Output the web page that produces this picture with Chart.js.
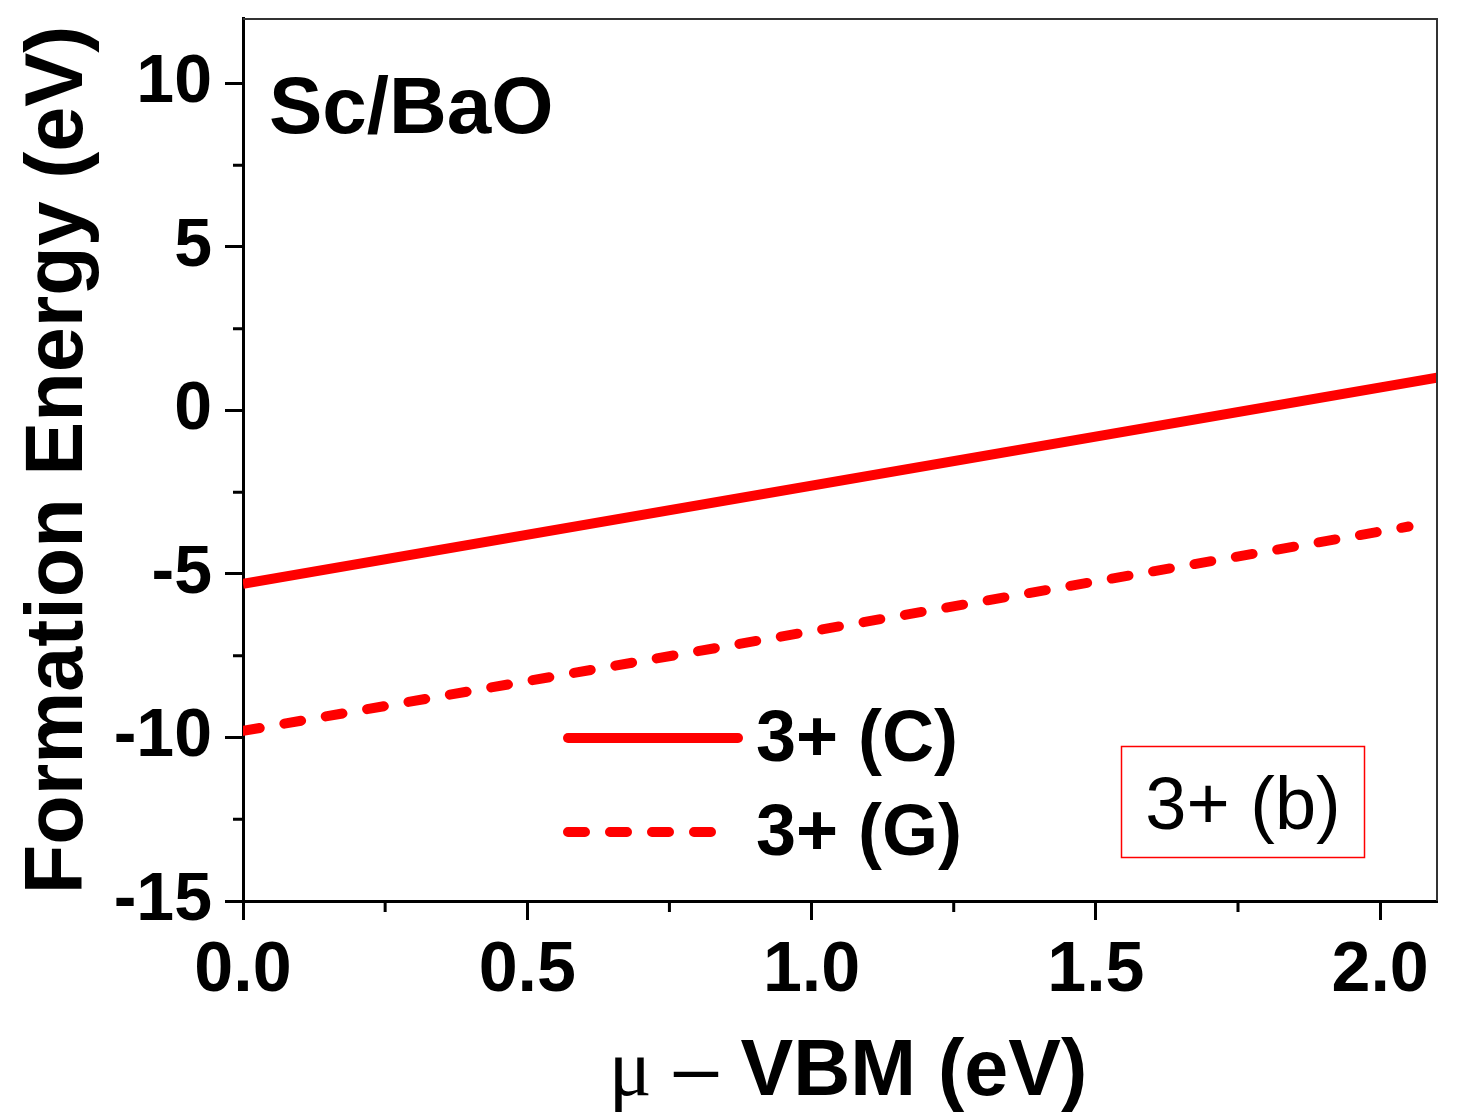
<!DOCTYPE html>
<html>
<head>
<meta charset="utf-8">
<script src="https://cdn.jsdelivr.net/npm/chart.js@4.4.1/dist/chart.umd.min.js"></script>
<style>
  body { margin: 0; background: #fff; }
  #wrap { width: 1459px; height: 1117px; position: relative; }
</style>
</head>
<body>
<div id="wrap"><canvas id="formationChart"></canvas></div>
<script>
// Series labels and end points (straight lines)
const seriesNames = ['3+ (C)', '3+ (G)'];
const xC = [0, 2.1];
const yC = [-5.3, 1.0];
const xG = [0, 2.05];
const yG = [-9.8, -3.55];

// Axis ticks
const xMajor = [0, 0.5, 1.0, 1.5, 2.0];
const xMinor = [0.25, 0.75, 1.25, 1.75];
const xTickLabels = ['0.0', '0.5', '1.0', '1.5', '2.0'];
const yMajor = [-15, -10, -5, 0, 5, 10];
const yMinor = [-12.5, -7.5, -2.5, 2.5, 7.5];
const yTickLabels = ['-15', '-10', '-5', '0', '5', '10'];

const SANS = '"Liberation Sans", Arial, sans-serif';
const SERIF = '"Liberation Serif", "Times New Roman", serif';

const toPoints = (xs, ys) => xs.map((x, i) => ({ x: x, y: ys[i] }));

// Extra drawing: minor ticks, frame, titles, legend and boxed label
const decorPlugin = {
    id: 'decor',
    afterDraw(chart) {
        const c = chart.ctx;
        const area = chart.chartArea;
        const xs = chart.scales.x, ys = chart.scales.y;
        c.save();

        // minor ticks (outward)
        c.strokeStyle = '#000';
        c.lineWidth = 3;
        c.beginPath();
        xMinor.forEach(v => {
            const px = xs.getPixelForValue(v);
            c.moveTo(px, area.bottom); c.lineTo(px, area.bottom + 11);
        });
        yMinor.forEach(v => {
            const py = ys.getPixelForValue(v);
            c.moveTo(area.left, py); c.lineTo(area.left - 10, py);
        });
        c.stroke();

        // thin top / right frame
        c.strokeStyle = '#333';
        c.lineWidth = 2;
        c.beginPath();
        c.moveTo(area.left, area.top + 1); c.lineTo(area.right, area.top + 1);
        c.lineTo(area.right, area.bottom);
        c.stroke();

        // panel label
        c.fillStyle = '#000';
        c.textAlign = 'left';
        c.textBaseline = 'alphabetic';
        c.font = 'bold 80px ' + SANS;
        c.fillText('Sc/BaO', area.left + 26, 133);

        // legend
        const ds = chart.data.datasets;
        const legRows = [738, 832];
        const legEnds = [area.left + 495, area.left + 472];
        ds.forEach((d, i) => {
            c.save();
            c.strokeStyle = d.borderColor;
            c.lineWidth = d.borderWidth;
            c.lineCap = 'round';
            c.setLineDash(d.borderDash || []);
            c.beginPath();
            c.moveTo(area.left + 325, legRows[i]);
            c.lineTo(legEnds[i], legRows[i]);
            c.stroke();
            c.restore();
            c.fillStyle = '#000';
            c.font = 'bold 72px ' + SANS;
            c.textBaseline = 'middle';
            c.fillText(d.label, area.left + 513, legRows[i] + 3);
        });

        // boxed annotation
        c.strokeStyle = '#ff0000';
        c.lineWidth = 1.5;
        c.strokeRect(1121.5, 746.5, 243, 111);
        c.fillStyle = '#000';
        c.font = '74px ' + SANS;
        c.textAlign = 'center';
        c.textBaseline = 'alphabetic';
        c.fillText('3+ (b)', 1243, 829);

        // x title: mu in serif, rest mixed
        c.textAlign = 'left';
        const parts = [
            { t: '\u03bc', f: '80px ' + SERIF },
            { t: ' \u2013 ', f: '80px ' + SANS },
            { t: 'VBM (eV)', f: 'bold 79px ' + SANS }
        ];
        let total = 0;
        parts.forEach(p => { c.font = p.f; p.w = c.measureText(p.t).width; total += p.w; });
        let xpos = 848 - total / 2;
        parts.forEach(p => { c.font = p.f; c.fillText(p.t, xpos, 1095); xpos += p.w; });

        // y title
        c.save();
        c.translate(82, 460);
        c.rotate(-Math.PI / 2);
        c.textAlign = 'center';
        c.font = 'bold 81px ' + SANS;
        c.fillText('Formation Energy (eV)', 0, 0);
        c.restore();

        c.restore();
    }
};

const ctx = document.getElementById('formationChart').getContext('2d');
const formationChart = new Chart(ctx, {
    type: 'scatter',
    data: {
        datasets: [{
            label: seriesNames[0],
            data: toPoints(xC, yC),
            showLine: true,
            borderColor: '#ff0000',
            borderWidth: 10,
            borderCapStyle: 'butt',
            pointRadius: 0,
            fill: false
        }, {
            label: seriesNames[1],
            data: toPoints(xG, yG),
            showLine: true,
            borderColor: '#ff0000',
            borderWidth: 10,
            borderDash: [17, 25],
            borderCapStyle: 'round',
            pointRadius: 0,
            fill: false
        }]
    },
    options: {
        responsive: true,
        maintainAspectRatio: false,
        animation: false,
        layout: { padding: { top: 18, right: 22, left: 0, bottom: 0 } },
        plugins: { legend: { display: false }, tooltip: { enabled: false } },
        scales: {
            x: {
                type: 'linear',
                min: 0,
                max: 2.1,
                afterBuildTicks: s => { s.ticks = xMajor.map(v => ({ value: v })); },
                afterFit: s => { s.height = 216; s.paddingLeft = 0; s.paddingRight = 0; },
                border: { color: '#000', width: 3 },
                grid: { drawOnChartArea: false, tickLength: 19, tickWidth: 3, tickColor: '#000' },
                ticks: {
                    autoSkip: false,
                    maxRotation: 0,
                    padding: 10,
                    color: '#000',
                    font: { family: SANS, size: 70, weight: 'bold' },
                    callback: (v, i) => xTickLabels[i]
                }
            },
            y: {
                type: 'linear',
                min: -15,
                max: 12,
                afterBuildTicks: s => { s.ticks = yMajor.map(v => ({ value: v })); },
                afterFit: s => { s.width = 243; s.paddingTop = 0; s.paddingBottom = 0; },
                border: { color: '#000', width: 3 },
                grid: { drawOnChartArea: false, tickLength: 18, tickWidth: 3, tickColor: '#000' },
                ticks: {
                    autoSkip: false,
                    padding: 13,
                    color: '#000',
                    font: { family: SANS, size: 68, weight: 'bold' },
                    callback: (v, i) => yTickLabels[i]
                }
            }
        }
    },
    plugins: [decorPlugin]
});
</script>
</body>
</html>
